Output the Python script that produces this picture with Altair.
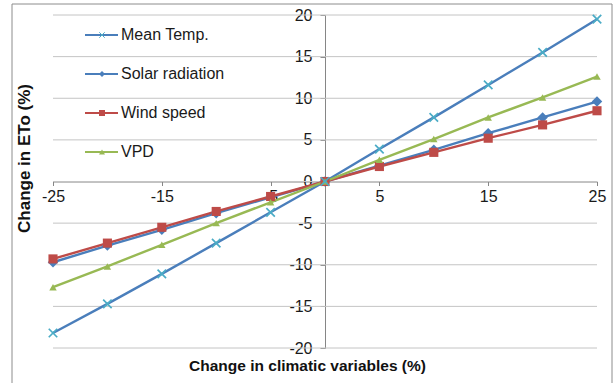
import altair as alt
import pandas as pd

# ---- data ----
x_vals = [-25, -20, -15, -10, -5, 0, 5, 10, 15, 20, 25]
series_names = ["Mean Temp.", "Solar radiation", "Wind speed", "VPD"]
mean_temp = [-18.2, -14.7, -11.1, -7.4, -3.7, 0, 3.9, 7.7, 11.6, 15.5, 19.5]
solar_rad = [-9.7, -7.7, -5.8, -3.8, -1.9, 0, 1.9, 3.8, 5.8, 7.7, 9.6]
wind_speed = [-9.3, -7.4, -5.5, -3.6, -1.8, 0, 1.8, 3.5, 5.2, 6.8, 8.5]
vpd = [-12.7, -10.2, -7.6, -5.0, -2.5, 0, 2.6, 5.1, 7.7, 10.1, 12.6]
y_ticks = [-20, -15, -10, -5, 0, 5, 10, 15, 20]
x_ticks = [-25, -15, -5, 5, 15, 25]

line_colors = ["#4a7ebb", "#4a7ebb", "#be4b48", "#98b954"]
filled_names = ["Solar radiation", "Wind speed", "VPD"]
filled_shapes = ["diamond", "square", "triangle-up"]
filled_sizes = [110, 56, 80]
cross_color = "#4bacc6"
x_path = "M-1,-1L1,1M1,-1L-1,1"

rows = []
for name, vals in zip(series_names, [mean_temp, solar_rad, wind_speed, vpd]):
    for xv, yv in zip(x_vals, vals):
        rows.append({"series": name, "x": xv, "y": yv})
df = pd.DataFrame(rows)
grid_df = pd.DataFrame({"y": y_ticks})
legend_df = pd.DataFrame({"series": series_names})
one = pd.DataFrame({"a": [0]})

W, H = 544, 333
FONT = "Liberation Sans"

xscale = alt.Scale(domain=[-25, 25], nice=False, zero=False)
yscale = alt.Scale(domain=[-20, 20], nice=False, zero=False)
cscale = alt.Scale(domain=series_names, range=line_colors)
sscale = alt.Scale(domain=filled_names, range=filled_shapes)
zscale = alt.Scale(domain=filled_names, range=filled_sizes)

x_axis = alt.Axis(
    values=x_ticks, offset=-H / 2, grid=False, labelFlush=False,
    labelExpr="toString(datum.value)",
    domainColor="#868686", tickColor="#868686", tickSize=4,
    labelFont=FONT, labelFontSize=16, labelColor="#1a1a1a", labelPadding=3,
    title="Change in climatic variables (%)", titleFont=FONT, titleFontSize=15.5,
    titleFontWeight="bold", titleColor="#111111",
    titleX=254, titleY=183.5, titleBaseline="middle", titleAlign="center",
)
y_axis = alt.Axis(
    values=y_ticks, offset=-272, grid=False, labelFlush=False,
    labelExpr="toString(datum.value)",
    domainColor="#868686", tickColor="#868686", tickSize=5,
    labelFont=FONT, labelFontSize=16, labelColor="#1a1a1a", labelPadding=8,
    title="Change in ETo (%)", titleFont=FONT, titleFontSize=17,
    titleFontWeight="bold", titleColor="#111111",
    titleX=-301, titleY=143, titleBaseline="middle", titleAlign="center",
    titleAngle=270,
)

border = alt.Chart(one).mark_rect(
    fillOpacity=0, stroke="#8c8c8c", strokeWidth=1
).encode(x=alt.value(-41), x2=alt.value(559), y=alt.value(-11), y2=alt.value(380))

grid = alt.Chart(grid_df).mark_rule(color="#c4c4c4", strokeWidth=1).encode(
    y=alt.Y("y:Q", scale=yscale),
    x=alt.value(0), x2=alt.value(W),
)

lines = alt.Chart(df).mark_line(strokeWidth=2.4).encode(
    x=alt.X("x:Q", scale=xscale, axis=x_axis),
    y=alt.Y("y:Q", scale=yscale, axis=y_axis),
    color=alt.Color("series:N", scale=cscale, legend=None),
    detail="series:N",
)

filled_pts = alt.Chart(df).transform_filter(
    alt.FieldOneOfPredicate(field="series", oneOf=filled_names)
).mark_point(filled=True, opacity=1).encode(
    x=alt.X("x:Q", scale=xscale),
    y=alt.Y("y:Q", scale=yscale),
    color=alt.Color("series:N", scale=cscale, legend=None),
    shape=alt.Shape("series:N", scale=sscale, legend=None),
    size=alt.Size("series:N", scale=zscale, legend=None),
)

cross_pts = alt.Chart(df).transform_filter(
    alt.FieldEqualPredicate(field="series", equal="Mean Temp.")
).mark_point(shape=x_path, filled=False, color=cross_color, strokeWidth=1.7,
             size=72, opacity=1).encode(
    x=alt.X("x:Q", scale=xscale),
    y=alt.Y("y:Q", scale=yscale),
)

main = alt.layer(border, grid, lines, filled_pts, cross_pts)

lscale = alt.Scale(type="point", domain=series_names, range=[20, 137], padding=0)

leg_lines = alt.Chart(legend_df).mark_rule(strokeWidth=2).encode(
    y=alt.Y("series:N", scale=lscale, axis=None),
    x=alt.value(32), x2=alt.value(65),
    color=alt.Color("series:N", scale=cscale, legend=None),
)
leg_filled = alt.Chart(legend_df).transform_filter(
    alt.FieldOneOfPredicate(field="series", oneOf=filled_names)
).mark_point(filled=True, opacity=1, size=36).encode(
    y=alt.Y("series:N", scale=lscale, axis=None),
    x=alt.value(49),
    color=alt.Color("series:N", scale=cscale, legend=None),
    shape=alt.Shape("series:N", scale=sscale, legend=None),
)
leg_cross = alt.Chart(legend_df).transform_filter(
    alt.FieldEqualPredicate(field="series", equal="Mean Temp.")
).mark_point(shape=x_path, filled=False, color=cross_color, strokeWidth=1,
             size=30, opacity=1).encode(
    y=alt.Y("series:N", scale=lscale, axis=None),
    x=alt.value(49),
)
leg_text = alt.Chart(legend_df).mark_text(
    align="left", baseline="middle", font=FONT, fontSize=16, color="#1a1a1a"
).encode(
    y=alt.Y("series:N", scale=lscale, axis=None),
    x=alt.value(68),
    text="series:N",
)
legend = alt.layer(leg_lines, leg_filled, leg_cross, leg_text)

chart = alt.layer(main, legend).resolve_scale(
    x="independent", y="independent", size="independent"
).properties(
    width=W, height=H,
    padding={"left": 53, "top": 15, "right": 19, "bottom": 35},
    autosize="none", background="white",
).configure_view(stroke="transparent")

chart.save("out.html", embed_options={"renderer": "svg", "actions": False})
